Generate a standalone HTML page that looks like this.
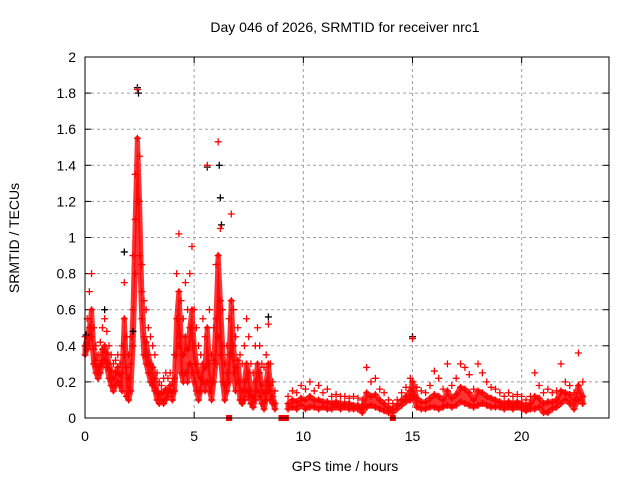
<!DOCTYPE html>
<html><head><meta charset="utf-8"><style>
body{margin:0;background:#fff}
svg{display:block;font-family:"Liberation Sans",sans-serif;font-size:14px}
</style></head><body>
<svg id="chart" width="640" height="480" viewBox="0 0 640 480">
<rect width="640" height="480" fill="#fff"/>
<text x="345" y="32" text-anchor="middle">Day 046 of 2026, SRMTID for receiver nrc1</text>
<text x="345" y="471" text-anchor="middle">GPS time / hours</text>
<text transform="translate(19,238) rotate(-90)" text-anchor="middle">SRMTID / TECUs</text>
<g id="grid"></g><g id="ticks"></g><g id="band"></g><g id="marks"></g>
<rect x="85" y="57" width="524" height="361" fill="none" stroke="#000" stroke-width="1"/>
</svg>
<script>
const xTicks=[0,5,10,15,20];
const yTicks=[0,0.2,0.4,0.6,0.8,1,1.2,1.4,1.6,1.8,2];
const yTickLabels=["0","0.2","0.4","0.6","0.8","1","1.2","1.4","1.6","1.8","2"];
const hours=[0,0.1,0.2,0.3,0.4,0.5,0.6,0.7,0.8,0.9,1,1.1,1.2,1.3,1.4,1.5,1.6,1.7,1.8,1.9,2,2.1,2.2,2.3,2.4,2.5,2.6,2.7,2.8,2.9,3,3.1,3.2,3.3,3.4,3.5,3.6,3.7,3.8,3.9,4,4.1,4.2,4.3,4.4,4.5,4.6,4.7,4.8,4.9,5,5.1,5.2,5.3,5.4,5.5,5.6,5.7,5.8,5.9,6,6.1,6.2,6.3,6.4,6.5,6.6,6.7,6.8,6.9,7,7.1,7.2,7.3,7.4,7.5,7.6,7.7,7.8,7.9,8,8.1,8.2,8.3,8.4,8.5,8.6,8.7,
9.3,9.5,9.7,9.9,10.1,10.3,10.5,10.7,10.9,11.1,11.3,11.5,11.7,11.9,12.1,12.3,12.5,12.7,12.9,13.1,13.3,13.5,13.7,13.9,14.1,14.3,14.5,14.7,14.9,15,15.2,15.4,15.6,15.8,16,16.2,16.4,16.6,16.8,17,17.2,17.4,17.6,17.8,18,18.2,18.4,18.6,18.8,19,19.2,19.4,19.6,19.8,20,20.2,20.4,20.6,20.8,21,21.2,21.4,21.6,21.8,22,22.2,22.4,22.6,22.8];
const lowVals=[.35,.38,.40,.45,.30,.25,.22,.25,.30,.32,.28,.22,.18,.15,.18,.20,.18,.15,.35,.12,.10,.15,.40,.80,1.20,.90,.55,.35,.30,.25,.20,.18,.15,.10,.08,.10,.08,.10,.12,.15,.10,.15,.35,.40,.25,.20,.25,.20,.30,.25,.20,.15,.10,.15,.20,.15,.20,.15,.10,.20,.30,.45,.35,.20,.10,.15,.20,.35,.25,.15,.20,.10,.08,.10,.15,.12,.08,.06,.10,.15,.12,.08,.05,.10,.15,.10,.08,.05,
.05,.06,.05,.07,.05,.06,.06,.05,.06,.05,.05,.06,.05,.06,.05,.05,.05,.03,.06,.07,.06,.05,.04,.03,.03,.05,.07,.09,.10,.12,.06,.05,.05,.06,.06,.05,.06,.07,.06,.07,.09,.08,.07,.06,.07,.08,.07,.06,.06,.06,.05,.06,.05,.06,.05,.04,.05,.05,.06,.03,.03,.05,.06,.08,.10,.08,.05,.10,.08];
const highVals=[.45,.55,.70,.80,.50,.40,.35,.42,.50,.55,.48,.40,.35,.30,.32,.35,.30,.40,.75,.45,.35,.45,.90,1.35,1.82,1.45,.85,.65,.60,.50,.45,.40,.35,.25,.20,.18,.22,.25,.22,.25,.20,.35,.80,1.02,.65,.55,.75,.60,.80,.95,.60,.50,.40,.35,.55,.45,1.40,.60,.35,.50,.85,1.53,1.05,.60,.30,.40,.55,1.13,.60,.45,.50,.35,.30,.40,.55,.45,.30,.25,.40,.50,.40,.30,.28,.35,.52,.30,.20,.15,
.12,.15,.14,.18,.16,.20,.15,.18,.14,.16,.12,.13,.12,.12,.11,.12,.11,.10,.28,.20,.22,.16,.14,.10,.08,.10,.14,.17,.22,.44,.17,.15,.14,.18,.26,.22,.16,.30,.18,.22,.30,.28,.24,.16,.30,.25,.20,.17,.16,.14,.12,.14,.12,.13,.12,.10,.12,.25,.18,.14,.16,.14,.15,.30,.20,.18,.14,.36,.20];
const midVals=[.40,.45,.50,.60,.38,.32,.28,.30,.38,.40,.36,.30,.26,.22,.25,.28,.24,.25,.55,.28,.22,.30,.60,1.10,1.55,1.20,.70,.45,.42,.35,.30,.28,.22,.15,.13,.14,.14,.16,.15,.18,.14,.22,.55,.70,.45,.35,.45,.38,.50,.60,.40,.30,.25,.22,.30,.28,.50,.30,.20,.32,.55,.90,.65,.40,.18,.25,.35,.65,.40,.28,.32,.20,.15,.20,.30,.25,.15,.12,.20,.30,.25,.18,.14,.20,.30,.18,.12,.08,
.08,.10,.09,.11,.10,.12,.10,.10,.09,.09,.08,.09,.08,.08,.08,.07,.07,.06,.14,.12,.13,.10,.08,.06,.05,.07,.10,.12,.15,.20,.11,.09,.09,.11,.13,.12,.10,.15,.11,.13,.17,.16,.14,.10,.15,.14,.12,.11,.10,.09,.08,.09,.08,.09,.08,.07,.08,.12,.11,.08,.09,.09,.10,.15,.14,.13,.10,.18,.12];
const blackHours=[2.4,2.45,5.6,6.15,6.2,15,8.4,0.9,2.2,1.8,0.05,6.25];
const blackVals=[1.83,1.80,1.39,1.40,1.22,0.45,0.56,0.60,0.48,0.92,0.46,1.07];
const zeroHours=[6.6,9.0,9.2,14.1];
const zeroVals=[0,0,0,0];

const NS="http://www.w3.org/2000/svg";
const X0=85,X1=609,Y0=418,Y1=57;
const xs=h=>X0+h*(X1-X0)/24;
const ys=v=>Y0-v*(Y0-Y1)/2;
function mk(tag,attrs,parent){const e=document.createElementNS(NS,tag);for(const k in attrs)e.setAttribute(k,attrs[k]);parent.appendChild(e);return e;}
const grid=document.getElementById('grid'),ticks=document.getElementById('ticks'),marks=document.getElementById('marks'),band=document.getElementById('band');
yTicks.forEach((v,i)=>{
  const y=ys(v);
  if(v>0&&v<2){const g=mk('line',{x1:X0,x2:X1,y1:y,y2:y,stroke:'#a0a0a0','stroke-dasharray':'3,3'},grid);
  
  }
  const t=mk('line',{x1:X0,x2:X0+6,y1:y,y2:y,stroke:'#000'},ticks);
  
  
  mk('line',{x1:X1-6,x2:X1,y1:y,y2:y,stroke:'#000'},ticks);
  const l=mk('text',{x:X0-9,y:y+5,'text-anchor':'end'},ticks);l.textContent=yTickLabels[i];
  
  
});
xTicks.forEach(h=>{
  const x=xs(h);
  if(h>0){const g=mk('line',{x1:x,x2:x,y1:Y1,y2:Y0,stroke:'#a0a0a0','stroke-dasharray':'3,3'},grid);
  
  }
  const t=mk('line',{x1:x,x2:x,y1:Y0,y2:Y0-6,stroke:'#000'},ticks);
  
  
  mk('line',{x1:x,x2:x,y1:Y1,y2:Y1+6,stroke:'#000'},ticks);
  const l=mk('text',{x:x,y:Y0+23,'text-anchor':'middle'},ticks);l.textContent=String(h);
  
  
});
function bandPath(i0,i1){
  let top='',bot='';
  for(let i=i0;i<=i1;i++){top+=(i===i0?'M':'L')+xs(hours[i])+' '+ys(midVals[i]);}
  for(let i=i1;i>=i0;i--){bot+='L'+xs(hours[i])+' '+ys(lowVals[i]);}
  const p=mk('path',{d:top+bot+'Z',fill:'#f00','fill-opacity':0.8,stroke:'#f00','stroke-width':5,'stroke-opacity':0.8,'stroke-linejoin':'round'},band);
  
  
}
const gapIdx=hours.findIndex(h=>h>9);
bandPath(0,gapIdx-1);bandPath(gapIdx,hours.length-1);
function plus(h,v,color){
  const x=xs(h),y=ys(v);
  const p=mk('path',{d:`M${x-3.5} ${y}H${x+3.5}M${x} ${y-3.5}V${y+3.5}`,stroke:color,'stroke-width':1.3,fill:'none'},marks);
  
  
}
blackHours.forEach((h,i)=>plus(h,blackVals[i],'#000'));
hours.forEach((h,i)=>{plus(h,lowVals[i],'#f00');plus(h,midVals[i],'#f00');plus(h,highVals[i],'#f00');});
zeroHours.forEach((h,i)=>{
  const r=mk('rect',{x:xs(h)-3,y:ys(zeroVals[i])-3,width:6,height:6,fill:'#f00'},marks);
  
  
});
</script>
</body></html>
